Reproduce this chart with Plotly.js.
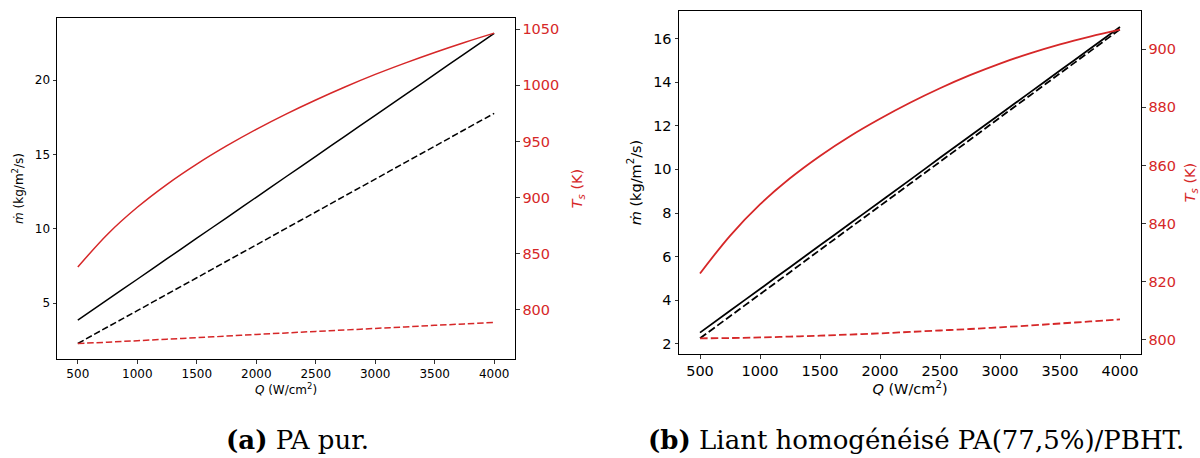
<!DOCTYPE html>
<html>
<head>
<meta charset="utf-8">
<script src="https://cdn.plot.ly/plotly-3.0.1.min.js"></script>
<style>html,body{margin:0;padding:0;background:#fff;}#chart{width:1200px;height:458px;}</style>
</head>
<body>
<div id="chart"></div>
<script>
// Heat flux Q (W/cm2)
const Q = [500, 750, 1000, 1250, 1500, 1750, 2000, 2250, 2500, 2750, 3000, 3250, 3500, 3750, 4000];

// (a) PA pur
const mdotSolidA  = [3.86, 5.24, 6.61, 7.99, 9.37, 10.74, 12.12, 13.50, 14.87, 16.25, 17.63, 19.00, 20.38, 21.76, 23.13];
const mdotDashedA = [2.29, 3.40, 4.50, 5.61, 6.71, 7.82, 8.92, 10.03, 11.13, 12.24, 13.34, 14.45, 15.55, 16.66, 17.76];
const tsSolidA    = [838, 867.3, 891.3, 911.8, 929.8, 946, 960.8, 974.4, 987, 998.8, 1009.8, 1019.9, 1029.4, 1038.3, 1046.6];
const tsDashedA   = [769.8, 771, 772.3, 773.7, 775, 776.4, 777.9, 779.2, 780.6, 781.9, 783.3, 784.6, 786, 787.3, 788.7];

// (b) Liant homogénéisé PA(77,5%)/PBHT
const mdotSolidB  = [2.52, 3.52, 4.52, 5.52, 6.52, 7.52, 8.52, 9.52, 10.53, 11.53, 12.53, 13.53, 14.53, 15.53, 16.53];
const mdotDashedB = [2.26, 3.27, 4.28, 5.29, 6.31, 7.32, 8.33, 9.34, 10.35, 11.36, 12.38, 13.39, 14.40, 15.41, 16.42];
const tsSolidB    = [822.8, 835.8, 846.6, 855.6, 863.3, 870.1, 876.1, 881.6, 886.6, 891.1, 895.1, 898.6, 901.7, 904.4, 906.8];
const tsDashedB   = [800.5, 800.6, 800.8, 801.1, 801.4, 801.8, 802.2, 802.7, 803.2, 803.7, 804.3, 804.9, 805.6, 806.3, 807.0];

const xTicks = [500, 1000, 1500, 2000, 2500, 3000, 3500, 4000];
const yTicksA = [5, 10, 15, 20];
const y2TicksA = [800, 850, 900, 950, 1000, 1050];
const yTicksB = [2, 4, 6, 8, 10, 12, 14, 16];
const y2TicksB = [800, 820, 840, 860, 880, 900];

const captionA = '<b>(a)</b> PA pur.';
const captionB = '<b>(b)</b> Liant homogénéisé PA(77,5%)/PBHT.';

const RED = '#d62728';
const W = 1200, H = 458;

function line(x, y, xa, ya, color, width, dash) {
  return {x: x, y: y, xaxis: xa, yaxis: ya, type: 'scatter', mode: 'lines',
    line: {color: color, width: width, dash: dash || 'solid', shape: 'spline', smoothing: 1},
    showlegend: false, hoverinfo: 'skip'};
}

const DA = '6.5px,2.8px', DB = '7.5px,3.2px';
const traces = [
  line(Q, mdotSolidA, 'x', 'y', '#000', 1.5),
  line(Q, mdotDashedA, 'x', 'y', '#000', 1.5, DA),
  line(Q, tsSolidA, 'x', 'y2', RED, 1.5),
  line(Q, tsDashedA, 'x', 'y2', RED, 1.5, DA),
  line(Q, mdotSolidB, 'x2', 'y3', '#000', 1.8),
  line(Q, mdotDashedB, 'x2', 'y3', '#000', 1.8, DB),
  line(Q, tsSolidB, 'x2', 'y4', RED, 1.8),
  line(Q, tsDashedB, 'x2', 'y4', RED, 1.8, DB)
];

function px(a) { return a / W; }
function py(top, bottom) { return [1 - bottom / H, 1 - top / H]; }

const fA = 12, fB = 14.5;
const FONT = 'DejaVu Sans, sans-serif';

function xax(dom, anchor, fs) {
  return {domain: dom, anchor: anchor, range: [325, 4175], tickvals: xTicks,
    ticks: 'outside', ticklen: 3.5, tickwidth: 0.8, tickcolor: '#000',
    showline: true, linecolor: '#000', linewidth: 1, mirror: true,
    showgrid: false, zeroline: false, tickfont: {family: FONT, size: fs, color: '#000'},
    title: {text: '<i>Q</i> (W/cm<sup>2</sup>)', font: {family: FONT, size: fs, color: '#000'}, standoff: 5}};
}
function yax(dom, anchor, range, ticks, fs, standoff) {
  return {domain: dom, anchor: anchor, range: range, tickvals: ticks,
    ticks: 'outside', ticklen: 3.5, tickwidth: 0.8, tickcolor: '#000',
    showline: true, linecolor: '#000', linewidth: 1,
    showgrid: false, zeroline: false, tickfont: {family: FONT, size: fs, color: '#000'},
    title: {text: '<i>ṁ</i> (kg/m<sup>2</sup>/s)', font: {family: FONT, size: fs, color: '#000'}, standoff: standoff}};
}
function y2ax(over, anchor, range, ticks, fs, standoff) {
  return {overlaying: over, anchor: anchor, side: 'right', range: range, tickvals: ticks,
    ticks: 'outside', ticklen: 3.5, tickwidth: 0.8, tickcolor: '#000',
    showline: true, linecolor: '#000', linewidth: 1,
    showgrid: false, zeroline: false, tickfont: {family: FONT, size: fs, color: RED},
    title: {text: '<i>T</i><sub><i>s</i></sub> (K)', font: {family: FONT, size: fs, color: RED}, standoff: standoff}};
}

const layout = {
  width: W, height: H,
  margin: {l: 0, r: 0, t: 0, b: 0},
  paper_bgcolor: '#fff', plot_bgcolor: '#fff',
  font: {family: FONT},
  xaxis: xax([px(57), px(515)], 'y', fA),
  yaxis: yax(py(18, 359), 'x', [1.25, 24.17], yTicksA, fA, 8),
  yaxis2: y2ax('y', 'x', [756, 1060.1], y2TicksA, fB, 13),
  xaxis2: xax([px(679), px(1141)], 'y3', fB),
  yaxis3: yax(py(11, 354), 'x2', [1.54, 17.26], yTicksB, fB, 8),
  yaxis4: y2ax('y3', 'x2', [795.1, 913.2], y2TicksB, fB, 13),
  annotations: [
    {text: captionA, xref: 'paper', yref: 'paper', x: 297 / W, y: 1 - 440 / H,
     xanchor: 'center', yanchor: 'middle', showarrow: false,
     font: {family: 'DejaVu Serif, serif', size: 26, color: '#000'}},
    {text: captionB, xref: 'paper', yref: 'paper', x: 916 / W, y: 1 - 440 / H,
     xanchor: 'center', yanchor: 'middle', showarrow: false,
     font: {family: 'DejaVu Serif, serif', size: 26, color: '#000'}}
  ]
};

Plotly.newPlot('chart', traces, layout, {displayModeBar: false, staticPlot: true});
</script>
</body>
</html>
